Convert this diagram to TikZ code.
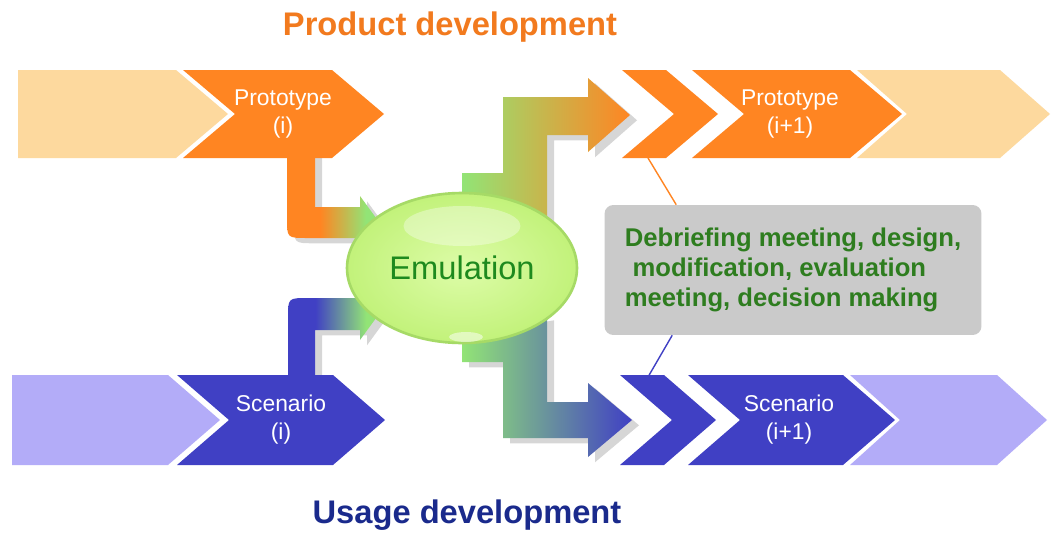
\documentclass[tikz,border=0pt]{standalone}
\usepackage{fontspec}
\setmainfont{Liberation Sans}
\usepackage{tikz}
\usetikzlibrary{shapes.geometric, shadows, calc}
\definecolor{morange}{HTML}{FF8522}
\definecolor{mpeach}{HTML}{FDD99E}
\definecolor{mblue}{HTML}{4040C4}
\definecolor{mlilac}{HTML}{B3ACF8}
\definecolor{mgreen}{HTML}{92E476}
\definecolor{mlime}{HTML}{C2F27A}
\definecolor{mlimelight}{HTML}{DDFCA8}
\definecolor{mlimeedge}{HTML}{A6DA66}
\definecolor{mtextgreen}{HTML}{1E8A1E}
\definecolor{mnotegreen}{HTML}{2E7D1F}
\definecolor{mnote}{HTML}{CACACA}
\definecolor{mtitleorange}{HTML}{F27A1E}
\definecolor{mtitleblue}{HTML}{1A2A8C}
\pgfdeclarehorizontalshading{orgreen}{100bp}{color(0bp)=(morange); color(43bp)=(morange); color(68bp)=(mgreen); color(100bp)=(mgreen)}
\pgfdeclarehorizontalshading{blgreen}{100bp}{color(0bp)=(mblue); color(40bp)=(mblue); color(68bp)=(mgreen); color(100bp)=(mgreen)}
\tikzset{
  chevlbl/.style={text=white, align=center, font=\fontsize{13}{15.9}\selectfont},
  title/.style={font=\fontsize{18.6}{22}\selectfont\bfseries},
  emubox/.style={ellipse, minimum width=4.6cm, minimum height=3cm, inner sep=0pt,
                 inner color=mlimelight, outer color=mlime, draw=mlimeedge, line width=1.5pt,
                 text=mtextgreen, font=\fontsize{18.6}{22}\selectfont},
  notebox/.style={fill=mnote, rounded corners=5pt, minimum width=7.54cm, minimum height=2.6cm,
                  align=left, text=mnotegreen, font=\fontsize{14.6}{17.2}\selectfont\bfseries},
  shadowed/.style={drop shadow={shadow xshift=4pt, shadow yshift=-3pt, opacity=0.16, fill=black}},
  tie/.style={line width=0.8pt},
}
\begin{document}
\begin{tikzpicture}[x=0.02cm, y=-0.02cm]
  \fill[white] (0,0) rectangle (1051,534);
  \useasboundingbox (0,0) rectangle (1051,534);

  % arrows into the emulation
  \shade[shading=orgreen, shadowed] (287,140) -- (287,218) .. controls (287,238) .. (307,238)
    -- (360,238) -- (360,248) -- (379,222) -- (360,196) -- (360,207) -- (315,207) -- (315,140) -- cycle;
  \shade[shading=blgreen, shadowed] (288,430) -- (288,318) .. controls (288,298) .. (308,298)
    -- (360,298) -- (360,288) -- (379,314) -- (360,340) -- (360,330) -- (315,330) -- (315,430) -- cycle;

  % product row
  \fill[mpeach] (18,70) -- (176,70) -- (228,114) -- (176,158) -- (18,158) -- cycle;
  \foreach \a/\b/\d/\col in {183/332/52/morange, 622/666/52/morange, 692/850/52/morange, 857/1000/50/mpeach}
    \fill[\col] (\a,70) -- (\b,70) -- (\b+\d,114) -- (\b,158) -- (\a,158) -- (\a+\d,114) -- cycle;

  % usage row
  \fill[mlilac] (12,375) -- (168,375) -- (220,420) -- (168,465) -- (12,465) -- cycle;
  \foreach \a/\b/\d/\col in {177/333/52/mblue, 620/664/52/mblue, 688/843/52/mblue, 850/997/50/mlilac}
    \fill[\col] (\a,375) -- (\b,375) -- (\b+\d,420) -- (\b,465) -- (\a,465) -- (\a+\d,420) -- cycle;

  % arrows out of the emulation
  \shade[left color=mgreen, right color=morange, shadowed] (462,205) -- (462,173) -- (503,173)
    -- (503,97) -- (588,97) -- (588,78) -- (630,115) -- (588,152) -- (588,135) -- (547,135) -- (547,225) -- cycle;
  \shade[left color=mgreen, right color=mblue, shadowed] (462,330) -- (462,362) -- (503,362)
    -- (503,438) -- (588,438) -- (588,457) -- (632,420) -- (588,383) -- (588,402) -- (547,402) -- (547,315) -- cycle;

  \node[emubox] (emu) at (462,268) {Emulation};
  \fill[white, opacity=0.35] ($(emu.center)+(0,-42)$) ellipse [x radius=1.17cm, y radius=0.4cm];
  \fill[white, opacity=0.5] ($(emu.center)+(4,69)$) ellipse [x radius=0.34cm, y radius=0.1cm];

  \node[chevlbl] (protoA) at (283,114) {Prototype\\(i)};
  \node[chevlbl] (protoB) at (790,114) {Prototype\\(i+1)};
  \node[chevlbl] (scenA) at (281,420) {Scenario\\(i)};
  \node[chevlbl] (scenB) at (789,420) {Scenario\\(i+1)};

  \node[title, text=mtitleorange] (prodtitle) at (450,27) {Product development};
  \node[title, text=mtitleblue] (usetitle) at (467,515) {Usage development};

  \node[notebox] (note) at (793,270) {Debriefing meeting, design,\\\hspace*{0.3em}modification, evaluation\\meeting, decision making};

  \coordinate (tieTop) at (648,158);
  \coordinate (tieBot) at (648,377);
  \draw[tie, morange] (tieTop) -- ($(note.north west)+(72,0)$);
  \draw[tie, mblue] ($(note.south west)+(68,0)$) -- (tieBot);
\end{tikzpicture}
\end{document}
